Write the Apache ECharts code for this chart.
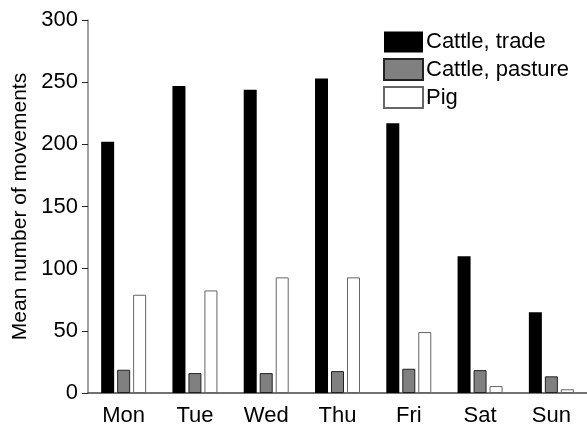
<!DOCTYPE html>
<html>
<head>
<meta charset="utf-8">
<script src="https://cdn.jsdelivr.net/npm/echarts@6/dist/echarts.min.js"></script>
<style>
  html, body { margin: 0; padding: 0; background: #fff; }
  #chart { width: 587px; height: 427px; }
</style>
</head>
<body>
<div id="chart"></div>
<script>
const days = ['Mon', 'Tue', 'Wed', 'Thu', 'Fri', 'Sat', 'Sun'];
const cattleTrade = [202, 247, 244, 253, 217, 110, 65];
const cattlePasture = [18.7, 16, 16, 17.6, 19.5, 18.4, 13.4];
const pig = [79, 82.5, 93, 93, 49, 5.6, 3];

const chart = echarts.init(document.getElementById('chart'));
const font = 'Liberation Sans, Arial, sans-serif';

option = {
    animation: false,
    grid: {
        left: 88,
        right: 0,
        top: 20,
        bottom: 33
    },
    legend: {
        orient: 'vertical',
        left: 383,
        top: 31,
        padding: 0,
        itemWidth: 39,
        itemHeight: 21,
        itemGap: 5,
        icon: 'rect',
        textStyle: {
            fontFamily: font,
            fontSize: 22,
            lineHeight: 22,
            color: '#000',
            padding: [0, 0, 0, -2]
        },
        data: ['Cattle, trade', 'Cattle, pasture', 'Pig']
    },
    xAxis: {
        type: 'category',
        data: days,
        axisLine: {
            lineStyle: { color: '#444', width: 1.5 }
        },
        axisTick: {
            alignWithLabel: true,
            length: 6,
            lineStyle: { color: '#222' }
        },
        axisLabel: {
            fontFamily: font,
            fontSize: 22,
            color: '#000',
            margin: 12
        }
    },
    yAxis: {
        type: 'value',
        min: 0,
        max: 300,
        interval: 50,
        name: 'Mean number of movements',
        nameLocation: 'middle',
        nameGap: 52,
        nameTextStyle: {
            fontFamily: font,
            fontSize: 21,
            color: '#000'
        },
        splitLine: { show: false },
        axisLine: {
            show: true,
            lineStyle: { color: '#808080', width: 1.5 }
        },
        axisTick: {
            show: true,
            length: 6,
            lineStyle: { color: '#222' }
        },
        axisLabel: {
            fontFamily: font,
            fontSize: 22,
            color: '#000',
            margin: 10
        }
    },
    series: [
        {
            name: 'Cattle, trade',
            type: 'bar',
            data: cattleTrade,
            barWidth: 13,
            barGap: '23%',
            itemStyle: {
                color: '#000'
            }
        },
        {
            name: 'Cattle, pasture',
            type: 'bar',
            data: cattlePasture,
            barWidth: 13,
            barGap: '23%',
            itemStyle: {
                color: '#808080',
                borderColor: '#222',
                borderWidth: 1
            }
        },
        {
            name: 'Pig',
            type: 'bar',
            data: pig,
            barWidth: 13,
            barGap: '23%',
            itemStyle: {
                color: '#fff',
                borderColor: '#666',
                borderWidth: 1
            }
        }
    ]
};
chart.setOption(option);
</script>
</body>
</html>
